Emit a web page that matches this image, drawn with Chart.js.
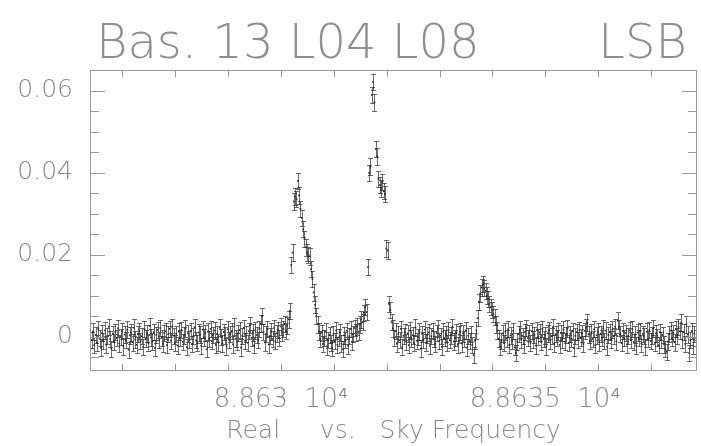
<!DOCTYPE html>
<html>
<head>
<meta charset="utf-8">
<script src="https://cdn.jsdelivr.net/npm/chart.js@4"></script>
<style>
html, body { margin: 0; padding: 0; background: #fff; }
</style>
</head>
<body>
<canvas id="grafico" width="701" height="446"></canvas>
<script>
const titulo = "Bas. 13 L04 L08";
const tituloLado = "LSB";
const eixoX = "Real     vs.   Sky Frequency";

// canais do espectro (freq em MHz)
const freqInicio = 88626.42;
const passoCanal = 0.025;
const erro = 0.002;
const intensidade = [
  -0.0008, 0.0012, -0.0021, 0.0004, -0.0015, 0.0019, -0.0003, -0.0027, 0.0009, -0.0011,
  0.0015, -0.0019, 0.0002, 0.0024, -0.0006, -0.0030, 0.0007, -0.0013, 0.0011, -0.0004,
  0.0020, -0.0017, -0.0001, 0.0013, -0.0024, 0.0005, -0.0009, 0.0017, -0.0032, 0.0003,
  0.0010, -0.0014, 0.0022, -0.0007, -0.0020, 0.0006, 0.0014, -0.0011, 0.0001, -0.0025,
  0.0018, -0.0005, 0.0008, -0.0016, 0.0026, -0.0002, -0.0012, 0.0011, -0.0028, 0.0004,
  0.0016, -0.0009, 0.0021, -0.0003, -0.0018, 0.0009, 0.0013, -0.0021, 0.0006, 0.0019,
  -0.0010, 0.0024, 0.0002, -0.0015, 0.0007, -0.0022, 0.0012, -0.0004, 0.0016, -0.0013,
  0.0003, 0.0020, -0.0026, 0.0008, -0.0007, 0.0014, -0.0018, 0.0001, 0.0023, -0.0009,
  -0.0016, 0.0010, 0.0005, -0.0023, 0.0017, -0.0002, 0.0009, -0.0031, 0.0012, -0.0006,
  0.0019, -0.0011, 0.0004, 0.0015, -0.0020, 0.0007, -0.0014, 0.0022, -0.0001, -0.0017,
  0.0011, 0.0003, -0.0024, 0.0018, -0.0008, 0.0006, 0.0013, -0.0019, 0.0025, -0.0005,
  -0.0012, 0.0009, 0.0016, -0.0027, 0.0002, 0.0021, -0.0010, 0.0007, -0.0015, 0.0013,
  0.0028, -0.0003, 0.0010, -0.0021, 0.0015, 0.0004, -0.0008, 0.0019, 0.0032, 0.0050,
  0.0011, -0.0014, 0.0006, 0.0018, -0.0019, 0.0002, 0.0012, -0.0006, 0.0021, -0.0011,
  0.0008, 0.0016, -0.0004, 0.0025, 0.0010, 0.0019, 0.0031, 0.0014, 0.0027, 0.0042,
  0.0063, 0.0175, 0.0205, 0.0330, 0.0342, 0.0336, 0.0380, 0.0345, 0.0312, 0.0290,
  0.0262, 0.0238, 0.0218, 0.0205, 0.0200, 0.0196, 0.0165, 0.0140, 0.0108, 0.0078,
  0.0050, 0.0030, 0.0012, -0.0006, 0.0009, -0.0018, -0.0003, 0.0012, -0.0024, -0.0009,
  0.0004, -0.0015, -0.0028, 0.0007, -0.0011, 0.0015, -0.0020, -0.0002, 0.0010, -0.0017,
  -0.0031, 0.0003, -0.0008, 0.0014, -0.0022, 0.0001, 0.0018, -0.0012, 0.0006, 0.0021,
  0.0010, 0.0025, 0.0012, 0.0030, 0.0042, 0.0035, 0.0058, 0.0072, 0.0060, 0.0170,
  0.0400, 0.0415, 0.0590, 0.0622, 0.0572, 0.0458, 0.0440, 0.0385, 0.0370, 0.0362,
  0.0378, 0.0355, 0.0348, 0.0215, 0.0210, 0.0080, 0.0065, 0.0035, 0.0020, -0.0004,
  0.0013, -0.0018, 0.0006, -0.0009, 0.0019, -0.0026, 0.0002, 0.0011, -0.0013, 0.0008,
  -0.0021, 0.0015, -0.0005, 0.0003, -0.0016, 0.0022, -0.0010, -0.0001, 0.0012, -0.0029,
  0.0007, -0.0008, 0.0017, -0.0014, 0.0004, 0.0010, -0.0023, 0.0001, 0.0014, -0.0006,
  -0.0018, 0.0009, 0.0020, -0.0011, 0.0002, -0.0025, 0.0013, -0.0004, 0.0006, -0.0015,
  0.0016, -0.0009, 0.0003, 0.0024, -0.0012, -0.0003, 0.0010, -0.0020, 0.0005, 0.0012,
  -0.0017, 0.0008, -0.0006, 0.0015, -0.0027, 0.0002, -0.0011, 0.0007, -0.0020, -0.0045,
  -0.0010, 0.0015, 0.0045, 0.0085, 0.0105, 0.0120, 0.0128, 0.0118, 0.0112, 0.0100,
  0.0092, 0.0080, 0.0072, 0.0065, 0.0055, 0.0048, 0.0030, 0.0015, -0.0005, -0.0025,
  -0.0010, 0.0008, -0.0016, 0.0012, -0.0005, 0.0018, -0.0021, 0.0003, -0.0010, 0.0014,
  -0.0026, -0.0040, -0.0012, 0.0006, 0.0017, -0.0008, 0.0002, -0.0019, 0.0011, 0.0021,
  -0.0004, 0.0009, -0.0015, 0.0013, -0.0007, 0.0004, -0.0022, 0.0016, -0.0001, 0.0010,
  -0.0013, 0.0019, -0.0006, 0.0003, -0.0024, 0.0008, 0.0015, -0.0010, 0.0001, 0.0023,
  -0.0017, 0.0006, -0.0003, 0.0012, -0.0020, 0.0009, -0.0008, 0.0017, -0.0012, 0.0004,
  0.0020, -0.0015, 0.0007, -0.0005, 0.0013, -0.0028, 0.0002, 0.0011, -0.0009, 0.0016,
  -0.0002, 0.0008, -0.0018, 0.0014, 0.0022, 0.0034, 0.0005, -0.0011, 0.0010, -0.0006,
  0.0018, -0.0021, 0.0003, 0.0012, -0.0014, 0.0007, -0.0003, 0.0020, -0.0010, 0.0015,
  -0.0025, 0.0004, 0.0011, -0.0007, 0.0017, 0.0001, 0.0024, -0.0012, 0.0039, 0.0021,
  0.0006, -0.0016, 0.0013, -0.0004, 0.0009, -0.0019, 0.0002, 0.0015, -0.0009, 0.0019,
  -0.0013, 0.0005, -0.0022, 0.0010, -0.0003, 0.0014, -0.0017, 0.0007, 0.0001, -0.0026,
  0.0012, -0.0006, 0.0016, -0.0011, 0.0003, 0.0020, -0.0015, 0.0008, -0.0002, -0.0021,
  0.0011, -0.0008, 0.0004, -0.0019, -0.0030, -0.0037, -0.0012, 0.0006, 0.0015, -0.0004,
  0.0009, -0.0014, 0.0018, 0.0002, 0.0024, 0.0013, 0.0034, -0.0007, 0.0011, -0.0018,
  0.0030, 0.0005, -0.0040, -0.0009, 0.0014, -0.0022, 0.0007, -0.0003, 0.0012
];

const xMin = 88626.39;
const xMax = 88637.87;
const yMin = -0.0084;
const yMax = 0.0651;

const xTicks = [88627, 88628, 88629, 88630, 88631, 88632, 88633, 88634, 88635, 88636, 88637];
const xRotuloValor = [88630, 88635];
const xRotuloTexto = ["8.863  10\u2074", "8.8635  10\u2074"];
const yTicks = [-0.005, 0, 0.005, 0.01, 0.015, 0.02, 0.025, 0.03, 0.035, 0.04, 0.045, 0.05, 0.055, 0.06];
const yRotuloValor = [0, 0.02, 0.04, 0.06];
const yRotuloTexto = ["0", "0.02", "0.04", "0.06"];

const pontos = intensidade.map((v, i) => ({ x: freqInicio + i * passoCanal, y: v }));

const cinza = "#8a8a8a";
const fonte = "'DejaVu Sans', sans-serif";

function rotulo(valor, valores, textos) {
  const k = valores.findIndex(v => Math.abs(v - valor) < 1e-7);
  return k >= 0 ? textos[k] : "";
}

const moldura = {
  id: "moldura",
  afterDatasetsDraw(chart) {
    const { ctx, chartArea: a, scales: { x, y } } = chart;

    // barras de erro
    ctx.save();
    ctx.beginPath();
    ctx.rect(a.left, a.top, a.right - a.left, a.bottom - a.top);
    ctx.clip();
    ctx.strokeStyle = "rgba(40,40,40,0.68)";
    ctx.lineWidth = 1;
    pontos.forEach(p => {
      const px = Math.round(x.getPixelForValue(p.x)) + 0.5;
      const y1 = Math.round(y.getPixelForValue(p.y - erro)) + 0.5;
      const y2 = Math.round(y.getPixelForValue(p.y + erro)) + 0.5;
      ctx.beginPath();
      ctx.moveTo(px, y1); ctx.lineTo(px, y2);
      ctx.moveTo(px - 2.5, y1); ctx.lineTo(px + 2.5, y1);
      ctx.moveTo(px - 2.5, y2); ctx.lineTo(px + 2.5, y2);
      ctx.stroke();
    });
    ctx.restore();

    // caixa e ticks para dentro
    ctx.save();
    ctx.strokeStyle = "#9a9a9a";
    ctx.lineWidth = 1;
    ctx.strokeRect(a.left + 0.5, a.top + 0.5, a.right - a.left - 1, a.bottom - a.top - 1);
    ctx.beginPath();
    xTicks.forEach(v => {
      const px = Math.round(x.getPixelForValue(v)) + 0.5;
      ctx.moveTo(px, a.bottom); ctx.lineTo(px, a.bottom - 7);
      ctx.moveTo(px, a.top); ctx.lineTo(px, a.top + 7);
    });
    yTicks.forEach(v => {
      const py = Math.round(y.getPixelForValue(v)) + 0.5;
      const len = rotulo(v, yRotuloValor, yRotuloTexto) ? 15 : 9;
      ctx.moveTo(a.left, py); ctx.lineTo(a.left + len, py);
      ctx.moveTo(a.right, py); ctx.lineTo(a.right - len, py);
    });
    ctx.stroke();

    // titulo
    ctx.fillStyle = "#8f8f8f";
    ctx.font = "200 48px " + fonte;
    ctx.textBaseline = "alphabetic";
    ctx.textAlign = "left";
    ctx.fillText(titulo, a.left + 6, 58);
    ctx.textAlign = "right";
    ctx.fillText(tituloLado, a.right - 10, 58);
    ctx.restore();
  }
};

new Chart(document.getElementById("grafico"), {
  type: "scatter",
  data: {
    datasets: [{
      data: pontos,
      pointRadius: 1.2,
      pointHoverRadius: 1.2,
      pointStyle: "rect",
      backgroundColor: "#303030",
      borderWidth: 0,
      showLine: false
    }]
  },
  options: {
    responsive: false,
    animation: false,
    layout: { padding: { top: 70, right: 4, left: 0, bottom: 0 } },
    plugins: {
      legend: { display: false },
      tooltip: { enabled: false },
      title: { display: false }
    },
    scales: {
      x: {
        type: "linear",
        min: xMin,
        max: xMax,
        afterBuildTicks: s => { s.ticks = xTicks.map(v => ({ value: v })); },
        afterFit: s => { s.height = 75; },
        grid: { display: false, drawTicks: false },
        border: { display: false },
        ticks: {
          autoSkip: false,
          maxRotation: 0,
          padding: 14,
          color: cinza,
          font: { family: fonte, size: 26, weight: "200" },
          callback: v => rotulo(v, xRotuloValor, xRotuloTexto)
        },
        title: {
          display: true,
          text: eixoX,
          color: cinza,
          padding: { top: 0, bottom: 0 },
          font: { family: fonte, size: 25, weight: "200" }
        }
      },
      y: {
        min: yMin,
        max: yMax,
        afterBuildTicks: s => { s.ticks = yTicks.map(v => ({ value: v })); },
        afterFit: s => { s.width = 90; },
        grid: { display: false, drawTicks: false },
        border: { display: false },
        ticks: {
          autoSkip: false,
          padding: 17,
          color: cinza,
          font: { family: fonte, size: 25, weight: "200" },
          callback: v => rotulo(v, yRotuloValor, yRotuloTexto)
        }
      }
    }
  },
  plugins: [moldura]
});
</script>
</body>
</html>
